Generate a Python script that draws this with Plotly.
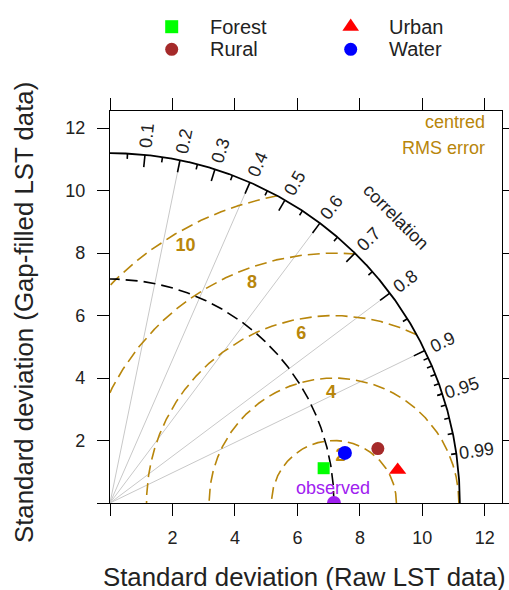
import numpy as np
import plotly.graph_objects as go

# ---------------- data ----------------
sites = ["Forest", "Rural", "Urban", "Water"]
site_sd = [6.93, 8.75, 9.27, 7.69]          # standard deviation (gap-filled)
site_corr = [0.987, 0.980, 0.9935, 0.978]   # correlation with raw data
obs_sd = 7.17                               # observed (raw) standard deviation
max_sd = 11.2                               # outer arc radius
rms_levels = [2, 4, 6, 8, 10]
corr_labels = [0.1, 0.2, 0.3, 0.4, 0.5, 0.6, 0.7, 0.8, 0.9, 0.95, 0.99]
corr_lines = [0.2, 0.4, 0.6, 0.8, 0.9]
axis_ticks = [0, 2, 4, 6, 8, 10, 12]
axis_ticktext = ["", "2", "4", "6", "8", "10", "12"]

# ---------------- styles ----------------
site_colors = ["#00ff00", "#a52a2a", "#ff0000", "#0000ff"]
site_symbols = ["square", "circle", "triangle-up", "circle"]
site_sizes = [12, 13, 15, 14]
obs_color = "#a020f0"
gold = "#b8860b"
txt = "#222222"
FONT = "Liberation Sans, Arial, sans-serif"

W, H = 509, 590
L, R, T, B = 110, 7, 111, 87
PW, PH = W - L - R, H - T - B


def px(x):
    return (x - L) / PW


def py(y):
    return (H - B - y) / PH


fig = go.Figure()

# correlation grey rays
rx, ry = [], []
for c in corr_lines:
    rx += [0, max_sd * c, None]
    ry += [0, max_sd * np.sqrt(1 - c * c), None]
fig.add_trace(go.Scatter(x=rx, y=ry, mode="lines",
                         line=dict(color="#c8c8c8", width=1), hoverinfo="skip"))

# centred RMS circles
th = np.linspace(0, np.pi, 4001)
for r in rms_levels:
    x = obs_sd + r * np.cos(th)
    y = r * np.sin(th)
    m = x * x + y * y <= max_sd * max_sd
    x = np.where(m, x, np.nan)
    y = np.where(m, y, np.nan)
    fig.add_trace(go.Scatter(x=x, y=y, mode="lines",
                             line=dict(color=gold, width=1.6, dash="12px,6px"),
                             hoverinfo="skip"))

# reference (observed) sd arc
th2 = np.linspace(0, np.pi / 2, 1000)
fig.add_trace(go.Scatter(x=obs_sd * np.cos(th2), y=obs_sd * np.sin(th2), mode="lines",
                         line=dict(color="black", width=1.6, dash="12px,6px"),
                         hoverinfo="skip"))

# outer arc
fig.add_trace(go.Scatter(x=max_sd * np.cos(th2), y=max_sd * np.sin(th2), mode="lines",
                         line=dict(color="black", width=1.8), hoverinfo="skip"))

# correlation ticks on the outer arc
big = np.arange(1, 10) / 10
med = np.arange(5, 100, 10) / 100
sml = np.arange(91, 100) / 100
tx, ty = [], []
for arr, f in ((big, 0.965), (med, 0.985), (sml, 0.985)):
    for c in arr:
        a = np.arccos(c)
        tx += [max_sd * np.cos(a), f * max_sd * np.cos(a), None]
        ty += [max_sd * np.sin(a), f * max_sd * np.sin(a), None]
fig.add_trace(go.Scatter(x=tx, y=ty, mode="lines",
                         line=dict(color="black", width=1.6), hoverinfo="skip"))

# RMS labels (as trace text so markers can cover them)
lab_ang = [np.deg2rad(82 + 9.5 * i) for i in range(len(rms_levels))]
fig.add_trace(go.Scatter(
    x=[obs_sd + (r - 0.5) * np.cos(a) for r, a in zip(rms_levels, lab_ang)],
    y=[(r - 0.5) * np.sin(a) for r, a in zip(rms_levels, lab_ang)],
    mode="text", text=[str(r) for r in rms_levels],
    textfont=dict(family=FONT, size=18, color=gold, weight="bold"),
    hoverinfo="skip"))

# observed point
fig.add_trace(go.Scatter(x=[obs_sd], y=[0], mode="markers",
                         marker=dict(color=obs_color, size=14, symbol="circle"),
                         hoverinfo="skip"))

# site points
for s, sd, c, col, sym, sz in zip(sites, site_sd, site_corr, site_colors, site_symbols, site_sizes):
    fig.add_trace(go.Scatter(x=[sd * c], y=[sd * np.sqrt(1 - c * c)], mode="markers",
                             name=s, marker=dict(color=col, size=sz, symbol=sym,
                                                 line=dict(width=0))))

ann = []
# correlation labels
for c in corr_labels:
    a = np.arccos(c)
    ann.append(dict(x=1.057 * max_sd * np.cos(a), y=1.057 * max_sd * np.sin(a),
                    xref="x", yref="y", text=str(c), showarrow=False,
                    textangle=-np.degrees(a), xanchor="center", yanchor="middle",
                    font=dict(family=FONT, size=18, color=txt)))
ann.append(dict(x=1.157 * max_sd * np.cos(np.pi / 4), y=1.157 * max_sd * np.sin(np.pi / 4),
                xref="x", yref="y", text="correlation", showarrow=False, textangle=45,
                xanchor="center", yanchor="middle", font=dict(family=FONT, size=18, color=txt)))
# centred RMS error label
ann.append(dict(x=px(487), y=py(122), xref="paper", yref="paper", text="centred",
                showarrow=False, xanchor="right", yanchor="middle",
                font=dict(family=FONT, size=18, color=gold)))
ann.append(dict(x=px(487), y=py(148), xref="paper", yref="paper", text="RMS error",
                showarrow=False, xanchor="right", yanchor="middle",
                font=dict(family=FONT, size=18, color=gold)))
# observed label
ann.append(dict(x=px(333), y=py(488), xref="paper", yref="paper", text="observed",
                showarrow=False, xanchor="center", yanchor="middle",
                font=dict(family=FONT, size=18, color=obs_color)))
# axis titles
ann.append(dict(x=px(304), y=py(576.5), xref="paper", yref="paper",
                text="Standard deviation (Raw LST data)", showarrow=False,
                xanchor="center", yanchor="middle", font=dict(family=FONT, size=25.8, color=txt)))
ann.append(dict(x=px(24), y=py(313), xref="paper", yref="paper",
                text="Standard deviation (Gap-filled LST data)", showarrow=False, textangle=-90,
                xanchor="center", yanchor="middle", font=dict(family=FONT, size=25.8, color=txt)))

# legend (manual)
leg_pos = {"Forest": (171.7, 26.7), "Urban": (350.7, 26.7), "Rural": (171.7, 49.3), "Water": (350.7, 49.3)}
shapes = []
for s, col, sym in zip(sites, site_colors, site_symbols):
    cx, cy = leg_pos[s]
    base = dict(xref="paper", yref="paper", xsizemode="pixel", ysizemode="pixel",
                xanchor=px(cx), yanchor=py(cy), fillcolor=col, line=dict(width=0))
    if sym == "square":
        shapes.append(dict(type="rect", x0=-6.5, x1=6.5, y0=-6.5, y1=6.5, **base))
    elif sym == "circle":
        shapes.append(dict(type="circle", x0=-6.5, x1=6.5, y0=-6.5, y1=6.5, **base))
    else:
        shapes.append(dict(type="path", path="M -8.3,-4.1 L 8.3,-4.1 L 0,8.2 Z", **base))
    ann.append(dict(x=px(cx + 36.5), y=py(cy), xref="paper", yref="paper", text=s,
                    showarrow=False, xanchor="left", yanchor="middle",
                    font=dict(family=FONT, size=20, color=txt)))

axis_common = dict(range=[0, 12.55], autorange=False, automargin=False,
                   tickvals=axis_ticks, ticktext=axis_ticktext,
                   ticks="outside", ticklen=12, tickwidth=1.4, tickcolor="black",
                   showline=True, linecolor="black", linewidth=1.4, mirror="ticks",
                   showgrid=False, zeroline=False,
                   tickfont=dict(family=FONT, size=18, color=txt))

fig.update_layout(
    width=W, height=H, autosize=False, margin=dict(l=L, r=R, t=T, b=B, autoexpand=False),
    plot_bgcolor="white", paper_bgcolor="white", showlegend=False,
    xaxis=dict(**axis_common, ticklabelstandoff=6),
    yaxis=dict(**axis_common, ticklabelstandoff=8),
    annotations=ann, shapes=shapes,
    font=dict(family=FONT),
)

fig.write_html("out.html",
               config={"responsive": False, "displayModeBar": False},
               post_script="document.body.style.margin='0px';document.body.style.overflow='hidden';")
